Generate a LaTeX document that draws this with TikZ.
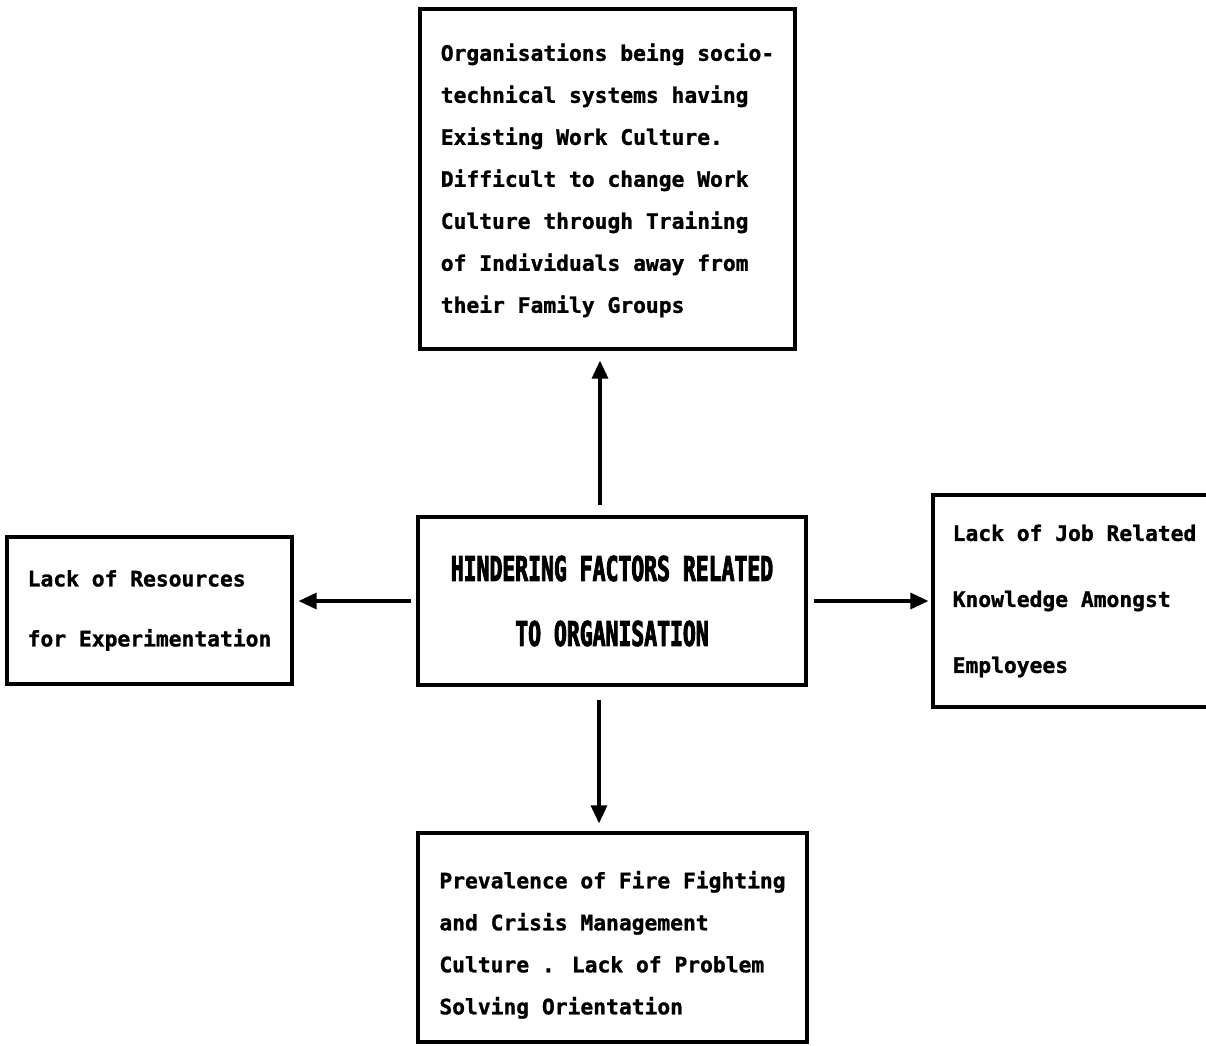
\documentclass[tikz,border=0pt]{standalone}
\usepackage{fontspec}
\setmainfont{DejaVu Sans Mono}[BoldFeatures={FakeBold=1.2}]
\newfontfamily\tallfont{DejaVu Sans Mono}[FakeStretch=0.63, BoldFeatures={FakeBold=2.5}]
\usetikzlibrary{arrows.meta}
\tikzset{
  box/.style={draw, line width=3.2pt, rectangle, align=left, inner sep=0pt,
    font=\bfseries\fontsize{21.3}{42}\selectfont},
  link/.style={line width=3.2pt, -{Triangle[length=18pt,width=16pt]}}
}
\begin{document}
\begin{tikzpicture}[x=1pt,y=-1pt]
\clip (0,0) rectangle (1206,1045);
\fill[white] (0,0) rectangle (1206,1045);

\node[box, minimum width=375pt, minimum height=340pt] (top) at (607.5,179)
  {\rule{0pt}{20pt}Organisations being socio-\\technical systems having\\Existing Work Culture.\\Difficult to change Work\\Culture through Training\\of Individuals away from\\their Family Groups};

\node[box, minimum width=388pt, minimum height=168pt, align=center,
      font=\tallfont\bfseries\fontsize{34}{65}\selectfont] (mid) at (612,601)
  {HINDERING FACTORS RELATED\\TO ORGANISATION};

\node[box, minimum width=285pt, minimum height=147pt,
      font=\bfseries\fontsize{21.3}{60}\selectfont] (left) at (149.5,610.5)
  {Lack of Resources\\for Experimentation};

\node[box, minimum width=283pt, minimum height=212pt,
      font=\bfseries\fontsize{21.3}{66}\selectfont] (right) at (1074.5,601)
  {Lack of Job Related\\Knowledge Amongst\\Employees};

\node[box, minimum width=389pt, minimum height=209pt] (bottom) at (612.5,937.5)
  {\rule{0pt}{32pt}Prevalence of Fire Fighting\\and Crisis Management\\Culture . Lack of Problem\\Solving Orientation};

\draw[link, shorten <=10pt, shorten >=10pt] ([xshift=-12pt]mid.north) -- ([xshift=-7.5pt]top.south);
\draw[link, shorten <=13pt, shorten >=8pt] ([xshift=-13pt]mid.south) -- ([xshift=-13.5pt]bottom.north);
\draw[link, shorten <=5pt, shorten >=5pt] (mid.west) -- (left.east |- mid.west);
\draw[link, shorten <=6pt, shorten >=3pt] (mid.east) -- (right.west |- mid.east);
\end{tikzpicture}
\end{document}
